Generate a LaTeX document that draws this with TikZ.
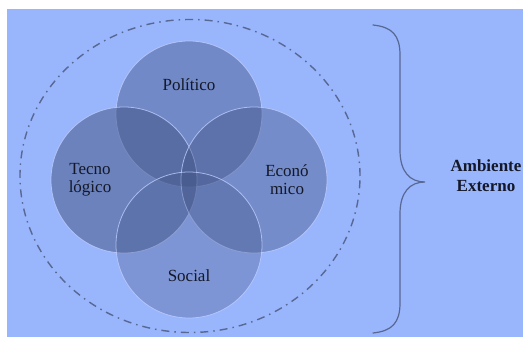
\documentclass[tikz,border=0pt]{standalone}
\usepackage{fontspec}
\setmainfont{Liberation Serif}
\usetikzlibrary{shapes.geometric}
\definecolor{bgblue}{RGB}{153,181,251}
\definecolor{slate}{RGB}{66,84,134}
\definecolor{rimc}{RGB}{190,205,255}
\definecolor{linec}{RGB}{88,104,148}
\definecolor{txt}{RGB}{20,24,40}
\begin{document}
\begin{tikzpicture}[x=1pt,y=-1pt,
  venn/.style={circle, minimum size=146pt, inner sep=0pt, fill=slate, draw=rimc, line width=0.8pt, draw opacity=0.8},
  lbl/.style={font=\fontsize{17}{18}\selectfont, text=txt, align=center, inner sep=0pt},
  side/.style={font=\bfseries\fontsize{17}{20}\selectfont, text=txt, align=center, inner sep=0pt}]
\useasboundingbox (0,0) rectangle (523,337);
\fill[white] (0,0) rectangle (523,337);
\fill[bgblue] (7,9) rectangle (523,337);
% outer dash-dot ellipse
\node[ellipse, draw=linec, line width=1.4pt, minimum width=340pt, minimum height=313pt, inner sep=0pt,
  dash pattern=on 8pt off 5pt on 1.5pt off 5pt] (env) at (190,176) {};
% circles
\node[venn, fill opacity=0.45] (pol) at (189,114) {};
\node[venn, fill opacity=0.52] (tec) at (124,180) {};
\node[venn, fill opacity=0.42] (eco) at (254,180) {};
\node[venn, fill opacity=0.32] (soc) at (189,245) {};
% labels
\node[lbl] (lpol) at (189,85) {Político};
\node[lbl] (ltec) at (90,180) {Tecno\\lógico};
\node[lbl] (leco) at (287,180) {Econó\\mico};
\node[lbl] (lsoc) at (189,276) {Social};
% brace
\coordinate (btop) at (373,25);
\coordinate (btip) at (425,182);
\coordinate (bbot) at (373,333);
\draw[linec, line width=1.2pt, line cap=round]
  (btop) .. controls (392,27) and (400,35) .. (400,55)
  -- (400,150) .. controls (400,172) and (410,182) .. (btip)
  .. controls (410,182) and (400,192) .. (400,214)
  -- (400,303) .. controls (400,323) and (392,331) .. (bbot);
\node[side] (amb) at (486,176) {Ambiente\\Externo};
\end{tikzpicture}
\end{document}
